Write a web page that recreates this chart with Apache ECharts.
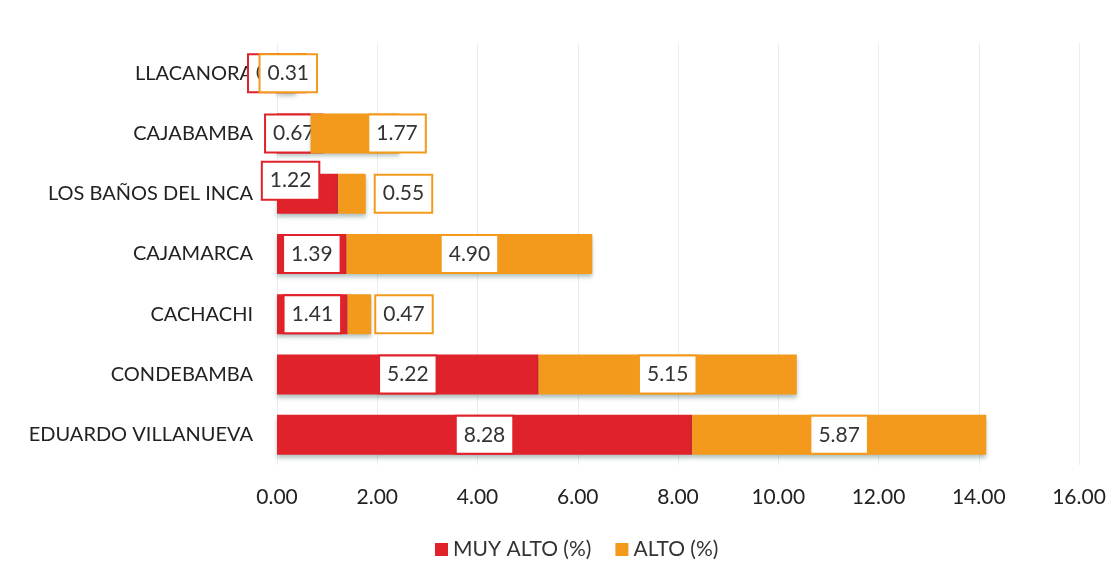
<!DOCTYPE html>
<html>
<head>
<meta charset="utf-8">
<style>
  html, body { margin: 0; padding: 0; background: #ffffff; }
  #chart { width: 1119px; height: 579px; }
</style>
<script src="https://cdn.jsdelivr.net/npm/echarts@6/dist/echarts.min.js"></script>
</head>
<body>
<div id="chart"></div>
<script>
// Districts, listed bottom to top as they appear on the category axis
const districts = ['EDUARDO VILLANUEVA', 'CONDEBAMBA', 'CACHACHI', 'CAJAMARCA', 'LOS BAÑOS DEL INCA', 'CAJABAMBA', 'LLACANORA'];
const muyAlto = [8.28, 5.22, 1.41, 1.39, 1.22, 0.67, 0.07];
const alto = [5.87, 5.15, 0.47, 4.90, 0.55, 1.77, 0.31];
const seriesNames = ['MUY ALTO (%)', 'ALTO (%)'];
const xTicks = [0, 2, 4, 6, 8, 10, 12, 14, 16];

const RED = '#e0222a';
const ORANGE = '#f39a1c';
const FONT = 'Lato, "Noto Sans", sans-serif';

function boxLabel(color) {
  return {
    show: true,
    position: 'inside',
    formatter: p => p.value.toFixed(2),
    fontFamily: FONT,
    fontSize: 21,
    color: '#333333',
    backgroundColor: '#ffffff',
    borderColor: color,
    borderWidth: 2,
    padding: [8, 7, 7, 7]
  };
}

// per-bar label placements for the short segments
const redPlacement = {
  'LOS BAÑOS DEL INCA': { offset: [-17, -13] },
  'LLACANORA': { offset: [-2, 0] }
};
const orangePlacement = {
  'CAJABAMBA': { position: 'right', distance: 0, offset: [-30, 0] },
  'LOS BAÑOS DEL INCA': { position: 'right', distance: 10 },
  'CACHACHI': { position: 'right', distance: 5 },
  'LLACANORA': { offset: [0, 0] }
};

function buildData(values, placements) {
  return values.map((v, i) => {
    const extra = placements[districts[i]];
    return extra ? { value: v, label: extra } : { value: v };
  });
}

const shadow = { shadowColor: 'rgba(40,80,80,0.35)', shadowBlur: 4, shadowOffsetY: 3 };

const chart = echarts.init(document.getElementById('chart'), null, { renderer: 'canvas' });
chart.setOption({
  animation: false,
  backgroundColor: '#ffffff',
  grid: { left: 277, right: 40, top: 43, bottom: 114, containLabel: false },
  legend: {
    bottom: 14,
    left: 430,
    itemWidth: 13,
    itemHeight: 13,
    itemGap: 24,
    icon: 'rect',
    textStyle: { fontFamily: FONT, fontSize: 21, color: '#333333' },
    data: seriesNames
  },
  xAxis: {
    type: 'value',
    min: xTicks[0],
    max: xTicks[xTicks.length - 1],
    interval: 2,
    axisLine: { show: false },
    axisTick: { show: false },
    splitLine: { show: true, lineStyle: { color: '#ececec', width: 1 } },
    axisLabel: {
      margin: 22,
      fontFamily: FONT,
      fontSize: 21,
      color: '#222222',
      formatter: v => v.toFixed(2)
    }
  },
  yAxis: {
    type: 'category',
    data: districts,
    axisLine: { show: false },
    axisTick: { show: false },
    splitLine: { show: false },
    axisLabel: {
      margin: 24,
      fontFamily: FONT,
      fontSize: 20,
      color: '#222222'
    }
  },
  series: [
    {
      name: seriesNames[0],
      type: 'bar',
      stack: 'total',
      barWidth: 40,
      itemStyle: Object.assign({ color: RED }, shadow),
      label: boxLabel(RED),
      z: 2,
      data: buildData(muyAlto, redPlacement)
    },
    {
      name: seriesNames[1],
      type: 'bar',
      stack: 'total',
      barWidth: 40,
      itemStyle: Object.assign({ color: ORANGE }, shadow),
      label: boxLabel(ORANGE),
      z: 3,
      data: buildData(alto, orangePlacement)
    }
  ]
});
</script>
</body>
</html>
